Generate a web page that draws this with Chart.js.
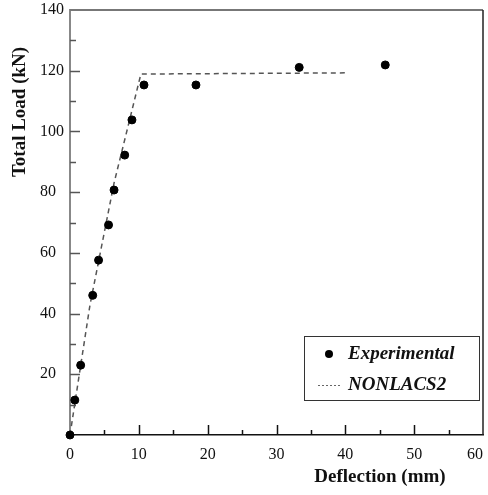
<!DOCTYPE html>
<html>
<head>
<meta charset="utf-8">
<script src="https://cdn.jsdelivr.net/npm/chart.js@4"></script>
<style>
  html, body { margin: 0; padding: 0; background: #fff; }
  #wrap { width: 488px; height: 495px; }
</style>
</head>
<body>
<div id="wrap"><canvas id="chart"></canvas></div>
<script>
// experimental points (deflection mm, load kN)
const expX = [0, 0.7, 1.55, 3.3, 4.15, 5.6, 6.4, 7.95, 9.0, 10.75, 18.3, 33.3, 45.8];
const expY = [0, 11.5, 23, 46, 57.6, 69.2, 80.7, 92.2, 103.8, 115.3, 115.3, 121.1, 121.9];

// NONLACS2 prediction
const modelX = [0, 2.9, 6.4, 10.3, 40.5];
const modelY = [0, 42.8, 83, 118.9, 119.3];

const xTicks = [0, 10, 20, 30, 40, 50, 60];
const yTicks = [0, 20, 40, 60, 80, 100, 120, 140];

const serif = "'Liberation Serif', 'DejaVu Serif', serif";

// inward tick marks, frame, axis titles, boxed legend
const decorations = {
  id: "decorations",
  afterDraw(chart) {
    const ctx = chart.ctx;
    const a = chart.chartArea;
    const xs = chart.scales.x;
    const ys = chart.scales.y;
    ctx.save();

    // frame top + right
    ctx.strokeStyle = "#777";
    ctx.lineWidth = 2;
    ctx.beginPath();
    ctx.moveTo(a.left, a.top);
    ctx.lineTo(a.right, a.top);
    ctx.stroke();
    ctx.strokeStyle = "#222";
    ctx.lineWidth = 1.5;
    ctx.beginPath();
    ctx.moveTo(a.right, a.top);
    ctx.lineTo(a.right, a.bottom);
    ctx.stroke();

    // y ticks (major every 20, minor every 10)
    ctx.strokeStyle = "#555";
    ctx.lineWidth = 1.5;
    for (let v = 10; v < 140; v += 10) {
      const y = Math.round(ys.getPixelForValue(v)) + 0.5;
      const len = v % 20 === 0 ? 10 : 6;
      ctx.beginPath();
      ctx.moveTo(a.left, y);
      ctx.lineTo(a.left + len, y);
      ctx.stroke();
    }
    // x ticks (major every 10, minor every 5)
    ctx.strokeStyle = "#111";
    for (let v = 5; v < 60; v += 5) {
      const x = Math.round(xs.getPixelForValue(v)) + 0.5;
      const len = v % 10 === 0 ? 10 : 5;
      ctx.beginPath();
      ctx.moveTo(x, a.bottom);
      ctx.lineTo(x, a.bottom - len);
      ctx.stroke();
    }

    // axis titles
    ctx.fillStyle = "#111";
    ctx.font = "bold 19px " + serif;
    ctx.textAlign = "center";
    ctx.textBaseline = "middle";
    ctx.fillText("Deflection (mm)", 380, 477);
    ctx.save();
    ctx.translate(20, 112);
    ctx.rotate(-Math.PI / 2);
    ctx.fillText("Total Load (kN)", 0, 0);
    ctx.restore();

    // legend
    const ds = chart.data.datasets;
    ctx.fillStyle = "#fff";
    ctx.fillRect(304.5, 336.5, 175, 64);
    ctx.strokeStyle = "#333";
    ctx.lineWidth = 1;
    ctx.strokeRect(304.5, 336.5, 175, 64);
    ctx.fillStyle = "#000";
    ctx.beginPath();
    ctx.arc(329, 354, 4, 0, Math.PI * 2);
    ctx.fill();
    ctx.strokeStyle = "#666";
    ctx.setLineDash([2, 2]);
    ctx.beginPath();
    ctx.moveTo(318, 385.5);
    ctx.lineTo(342, 385.5);
    ctx.stroke();
    ctx.setLineDash([]);
    ctx.fillStyle = "#111";
    ctx.font = "italic bold 19px " + serif;
    ctx.textAlign = "left";
    ctx.fillText(ds[0].label, 348, 354);
    ctx.fillText(ds[1].label, 348, 385);

    ctx.restore();
  }
};

new Chart(document.getElementById("chart"), {
  type: "scatter",
  data: {
    datasets: [
      {
        label: "Experimental",
        data: expX.map((x, i) => ({ x: x, y: expY[i] })),
        backgroundColor: "#000",
        borderColor: "#000",
        pointRadius: 4,
        showLine: false,
        clip: false,
        order: 1
      },
      {
        label: "NONLACS2",
        data: modelX.map((x, i) => ({ x: x, y: modelY[i] })),
        borderColor: "#555",
        borderWidth: 1.5,
        borderDash: [5, 4],
        pointRadius: 0,
        showLine: true,
        fill: false,
        order: 2
      }
    ]
  },
  options: {
    responsive: true,
    maintainAspectRatio: false,
    animation: false,
    layout: { padding: { left: 40, top: 10, right: 5, bottom: 0 } },
    plugins: { legend: { display: false }, tooltip: { enabled: false } },
    scales: {
      x: {
        type: "linear",
        min: 0,
        max: 60,
        afterBuildTicks: (s) => { s.ticks = xTicks.map(v => ({ value: v })); },
        afterFit: (s) => { s.height = 60; s.paddingLeft = 0; s.paddingRight = 0; },
        grid: { display: false, drawTicks: false },
        border: { display: true, color: "#111", width: 1.5 },
        ticks: {
          color: "#111",
          padding: 10,
          font: { family: serif, size: 16 },
          // last label sits at the canvas edge; pad it so it stays visible
          callback: (v) => (v === 60 ? "60    " : String(v))
        }
      },
      y: {
        type: "linear",
        min: 0,
        max: 140,
        afterBuildTicks: (s) => { s.ticks = yTicks.map(v => ({ value: v })); },
        afterFit: (s) => { s.width = 30; s.paddingTop = 0; s.paddingBottom = 0; },
        grid: { display: false, drawTicks: false },
        border: { display: true, color: "#888", width: 2 },
        ticks: {
          color: "#111",
          crossAlign: "far",
          font: { family: serif, size: 16 },
          callback: (v) => (v === 0 ? "" : v)
        }
      }
    }
  },
  plugins: [decorations]
});
</script>
</body>
</html>
